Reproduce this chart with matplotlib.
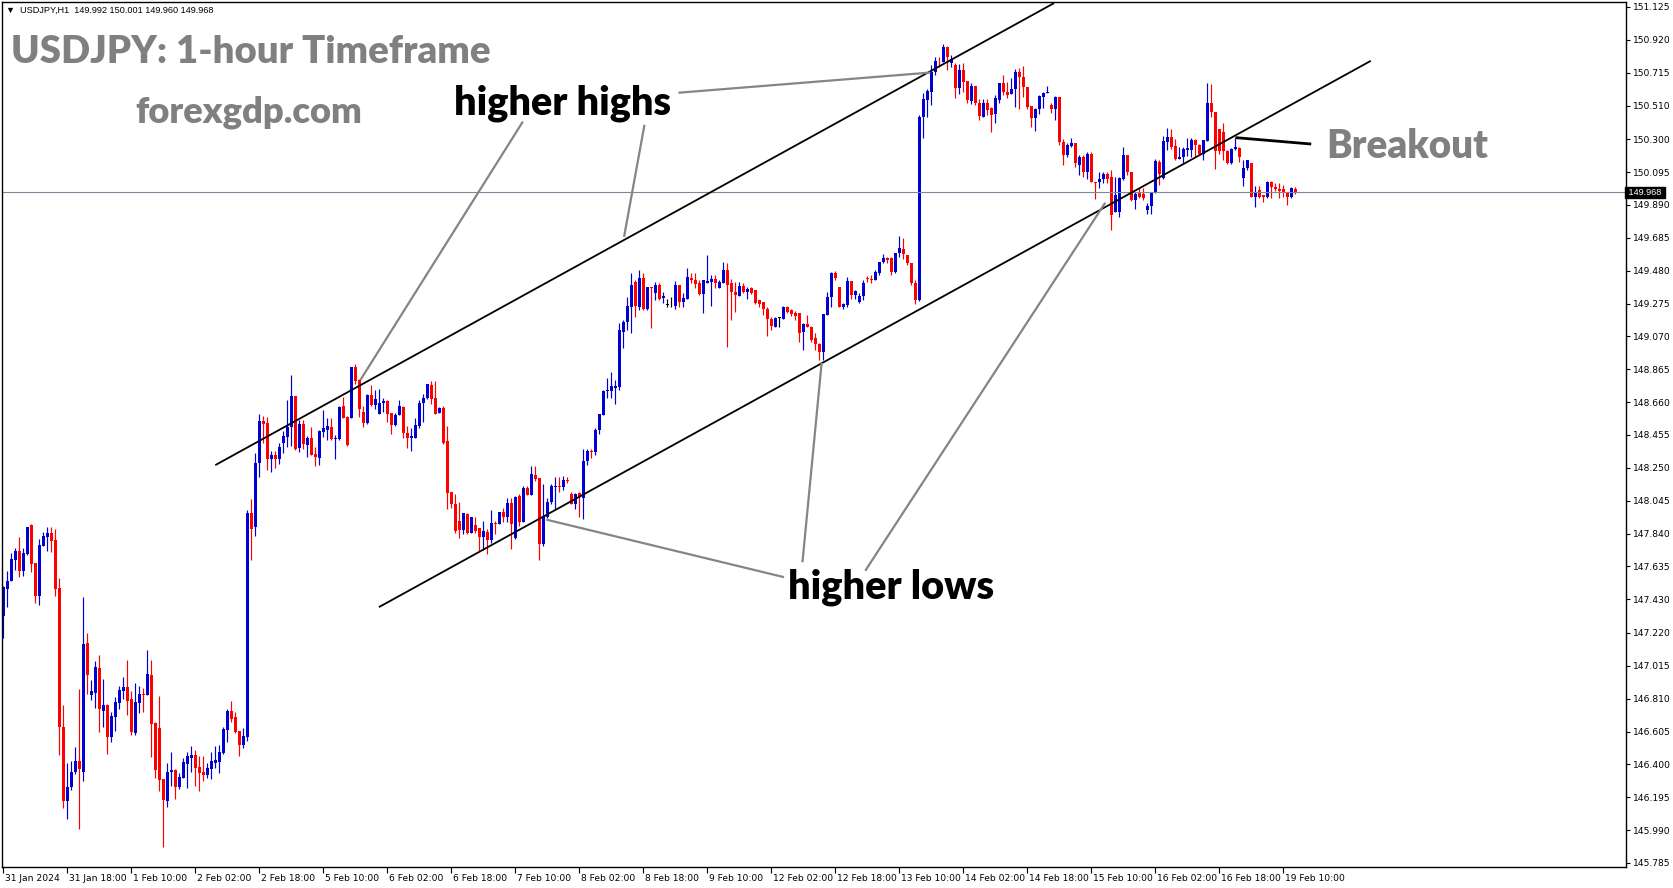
import numpy as np
import matplotlib
matplotlib.use('Agg')
from matplotlib import pyplot as plt
from matplotlib import transforms

# hourly USDJPY candles (bar 0 = 31 Jan 2024 00:00)
opens = [
147.325,147.494,147.546,147.675,147.731,147.608,147.712,147.891,147.656,147.452,
147.764,147.820,147.843,147.800,147.502,146.633,146.173,146.260,146.352,146.421,
146.354,147.157,146.834,146.847,147.001,146.735,146.770,146.572,146.697,146.785,
146.859,146.882,146.807,146.597,146.785,146.839,146.834,146.957,146.658,146.627,
146.308,146.173,146.352,146.364,146.260,146.317,146.404,146.441,146.458,146.383,
146.352,146.335,146.373,146.408,146.414,146.473,146.616,146.735,146.695,146.608,
146.522,146.572,147.968,147.883,148.280,148.542,148.530,148.305,148.330,148.305,
148.405,148.442,148.505,148.698,148.373,148.523,148.392,148.436,148.336,148.313,
148.475,148.486,148.505,148.430,148.430,148.636,148.567,148.561,148.879,148.798,
148.598,148.530,148.704,148.642,148.586,148.654,148.667,148.592,148.517,148.579,
148.629,148.467,148.436,148.436,148.511,148.654,148.685,148.767,148.685,148.592,
148.623,148.417,148.097,148.026,147.918,147.862,147.964,147.845,147.893,147.874,
147.818,147.850,147.802,147.906,147.897,147.974,147.943,148.030,147.814,148.076,
147.910,148.124,148.080,148.205,148.189,147.777,147.945,148.037,148.132,148.137,
148.132,148.174,148.089,148.022,148.095,148.060,148.293,148.357,148.351,148.486,
148.580,148.729,148.729,148.748,148.756,149.099,149.162,149.251,149.409,149.251,
149.432,149.239,149.378,149.338,149.390,149.307,149.266,149.264,149.259,149.390,
149.282,149.301,149.432,149.420,149.405,149.334,149.401,149.409,149.426,149.372,
149.405,149.484,149.405,149.347,149.322,149.384,149.347,149.370,149.361,149.295,
149.284,149.239,149.180,149.126,149.187,149.180,149.251,149.232,149.216,149.216,
149.097,149.147,149.128,149.058,149.022,148.972,149.201,149.313,149.463,149.378,
149.251,149.268,149.415,149.326,149.286,149.322,149.432,149.428,149.422,149.468,
149.536,149.557,149.557,149.474,149.593,149.613,149.578,149.526,149.400,149.300,
150.437,150.545,150.597,150.722,150.791,150.784,150.878,150.774,150.762,150.622,
150.732,150.664,150.541,150.633,150.524,150.441,150.529,150.495,150.458,150.545,
150.649,150.593,150.583,150.612,150.720,150.687,150.624,150.508,150.435,150.489,
150.566,150.587,150.514,150.489,150.566,150.285,150.202,150.260,150.275,150.140,
150.187,150.098,150.205,150.035,150.031,150.051,150.083,150.062,149.848,149.848,
150.051,150.201,150.093,149.920,149.962,149.958,149.858,149.885,149.962,150.160,
150.056,150.284,150.316,150.257,150.176,150.191,150.232,150.232,150.295,150.264,
150.205,150.291,150.528,150.472,150.361,150.347,150.228,150.149,150.237,150.243,
150.056,150.118,150.149,149.937,149.983,149.952,149.937,150.031,150.004,149.989,
149.989,149.962,149.941,149.992]

highs = [
147.513,147.608,147.721,147.750,147.820,147.750,147.881,147.902,147.656,147.806,
147.852,147.881,147.881,147.868,147.565,146.770,146.406,146.421,146.508,146.870,
147.444,147.219,146.926,147.045,147.082,146.932,146.776,146.726,146.820,146.889,
146.945,147.051,146.857,146.907,146.889,146.876,147.113,147.051,146.664,146.826,
146.308,146.408,146.477,146.371,146.346,146.439,146.477,146.514,146.489,146.452,
146.452,146.408,146.477,146.514,146.520,146.635,146.745,146.795,146.726,146.608,
146.627,147.987,148.055,148.342,148.586,148.573,148.567,148.355,148.355,148.403,
148.480,148.673,148.829,148.698,148.548,148.548,148.448,148.505,148.382,148.486,
148.611,148.561,148.561,148.455,148.636,148.692,148.573,148.879,148.898,148.804,
148.636,148.710,148.767,148.735,148.742,148.685,148.673,148.592,148.592,148.673,
148.636,148.511,148.498,148.561,148.673,148.710,148.773,148.792,148.792,148.629,
148.636,148.511,148.097,148.089,148.039,147.968,147.968,147.943,147.943,147.874,
147.918,147.868,147.985,147.918,147.974,148.001,148.060,148.060,148.076,148.089,
148.137,148.137,148.259,148.259,148.189,148.149,148.060,148.149,148.193,148.193,
148.199,148.193,148.099,148.095,148.099,148.367,148.367,148.367,148.498,148.586,
148.736,148.813,148.850,148.798,149.151,149.170,149.318,149.467,149.422,149.484,
149.463,149.378,149.378,149.411,149.401,149.349,149.301,149.313,149.415,149.390,
149.338,149.499,149.467,149.463,149.422,149.420,149.578,149.453,149.453,149.422,
149.536,149.530,149.426,149.411,149.411,149.401,149.380,149.380,149.361,149.297,
149.284,149.251,149.189,149.193,149.193,149.259,149.259,149.239,149.230,149.218,
149.151,149.203,149.135,149.089,149.031,149.209,149.349,149.474,149.480,149.378,
149.280,149.442,149.415,149.359,149.338,149.420,149.445,149.450,149.484,149.532,
149.584,149.568,149.568,149.588,149.697,149.682,149.578,149.530,149.420,150.452,
150.587,150.612,150.764,150.816,150.816,150.895,150.882,150.826,150.778,150.768,
150.778,150.664,150.653,150.633,150.549,150.549,150.549,150.504,150.576,150.653,
150.701,150.660,150.680,150.741,150.747,150.757,150.624,150.508,150.497,150.576,
150.597,150.633,150.529,150.570,150.566,150.300,150.279,150.306,150.275,150.200,
150.200,150.223,150.222,150.035,150.097,150.097,150.097,150.108,150.066,150.066,
150.249,150.201,150.093,149.972,149.993,149.993,149.900,149.972,150.174,150.170,
150.320,150.368,150.361,150.299,150.249,150.249,150.305,150.305,150.299,150.268,
150.295,150.648,150.644,150.472,150.361,150.403,150.232,150.247,150.309,150.249,
150.170,150.170,150.149,150.008,150.008,149.952,150.041,150.037,150.029,150.024,
150.014,149.972,150.004,150.001]

lows = [
147.186,147.384,147.546,147.612,147.571,147.577,147.706,147.600,147.409,147.394,
147.764,147.733,147.727,147.452,146.458,146.129,146.059,146.240,146.339,145.998,
146.298,146.841,146.801,146.751,146.604,146.635,146.464,146.541,146.610,146.747,
146.807,146.710,146.583,146.583,146.720,146.726,146.834,146.448,146.317,146.235,
145.886,146.136,146.265,146.186,146.248,146.317,146.254,146.354,146.267,146.235,
146.298,146.317,146.310,146.379,146.348,146.466,146.541,146.666,146.597,146.454,
146.504,146.547,147.677,147.826,148.195,148.407,148.236,148.226,148.247,148.274,
148.340,148.382,148.386,148.361,148.351,148.365,148.315,148.330,148.263,148.269,
148.442,148.423,148.423,148.305,148.423,148.561,148.386,148.561,148.773,148.567,
148.505,148.523,148.636,148.617,148.586,148.598,148.536,148.461,148.511,148.579,
148.436,148.373,148.355,148.436,148.498,148.536,148.679,148.648,148.586,148.592,
148.398,147.993,147.997,147.843,147.814,147.837,147.837,147.845,147.845,147.731,
147.739,147.710,147.779,147.839,147.897,147.910,147.910,147.743,147.806,147.889,
147.910,148.080,148.080,148.168,147.677,147.762,147.935,148.024,147.985,148.101,
148.112,148.155,148.026,147.995,147.943,147.929,148.268,148.311,148.330,148.461,
148.580,148.686,148.686,148.648,148.735,148.995,149.110,149.089,149.193,149.234,
149.234,149.234,149.124,149.297,149.297,149.276,149.251,149.255,149.239,149.255,
149.251,149.301,149.401,149.370,149.328,149.218,149.401,149.259,149.374,149.372,
149.401,149.006,149.172,149.224,149.322,149.338,149.301,149.334,149.272,149.251,
149.203,149.072,149.110,149.126,149.126,149.180,149.214,149.197,149.172,149.037,
148.985,149.126,149.035,148.985,148.922,148.922,149.201,149.255,149.422,149.251,
149.239,149.255,149.305,149.305,149.280,149.300,149.410,149.400,149.422,149.453,
149.526,149.526,149.453,149.464,149.568,149.551,149.516,149.390,149.270,149.290,
150.306,150.441,150.514,150.701,150.753,150.782,150.730,150.749,150.560,150.581,
150.595,150.529,150.520,150.514,150.420,150.437,150.452,150.348,150.400,150.524,
150.576,150.556,150.583,150.504,150.489,150.566,150.489,150.379,150.354,150.458,
150.493,150.587,150.462,150.420,150.264,150.140,150.192,150.254,150.125,150.077,
150.067,150.054,150.031,149.925,149.993,150.024,150.024,149.733,149.848,149.816,
150.045,150.076,149.916,149.864,149.931,149.920,149.833,149.833,149.962,150.014,
150.049,150.232,150.237,150.170,150.174,150.149,150.195,150.191,150.191,150.203,
150.170,150.289,150.440,150.112,150.207,150.170,150.145,150.145,150.232,150.160,
150.008,150.108,149.937,149.879,149.931,149.910,149.931,149.931,149.979,149.931,
149.937,149.889,149.931,149.960]

closes = [
147.508,147.544,147.681,147.731,147.608,147.719,147.881,147.652,147.452,147.768,
147.825,147.843,147.795,147.496,146.631,146.173,146.258,146.352,146.421,146.373,
147.153,146.959,146.857,147.007,146.747,146.770,146.572,146.701,146.789,146.864,
146.882,146.797,146.604,146.789,146.839,146.834,146.963,146.654,146.366,146.304,
146.179,146.352,146.364,146.260,146.321,146.414,146.452,146.458,146.379,146.346,
146.335,146.377,146.421,146.427,146.477,146.622,146.735,146.685,146.604,146.522,
146.577,147.968,147.870,148.280,148.542,148.523,148.305,148.330,148.305,148.380,
148.448,148.505,148.698,148.367,148.523,148.398,148.436,148.330,148.319,148.480,
148.498,148.511,148.430,148.436,148.629,148.561,148.392,148.879,148.792,148.617,
148.530,148.704,148.642,148.679,148.654,148.667,148.586,148.517,148.579,148.636,
148.467,148.436,148.448,148.517,148.654,148.685,148.773,148.679,148.586,148.623,
148.405,148.091,148.026,147.854,147.862,147.968,147.845,147.943,147.856,147.818,
147.856,147.802,147.906,147.897,147.974,147.943,148.030,147.897,148.068,147.914,
148.124,148.080,148.211,148.182,147.777,147.945,148.037,148.137,148.137,148.128,
148.174,148.168,148.026,148.089,148.070,148.293,148.357,148.351,148.486,148.586,
148.729,148.736,148.761,148.761,149.110,149.162,149.259,149.390,149.259,149.432,
149.239,149.378,149.370,149.390,149.301,149.322,149.266,149.264,149.390,149.282,
149.307,149.440,149.420,149.397,149.334,149.420,149.415,149.426,149.401,149.409,
149.484,149.390,149.347,149.328,149.384,149.347,149.365,149.343,149.280,149.270,
149.239,149.180,149.135,149.184,149.187,149.251,149.222,149.212,149.199,149.093,
149.147,149.130,149.047,149.022,148.972,149.209,149.313,149.467,149.432,149.255,
149.272,149.415,149.326,149.353,149.322,149.400,149.428,149.422,149.474,149.532,
149.559,149.547,149.474,149.588,149.620,149.582,149.526,149.400,149.300,150.437,
150.551,150.603,150.722,150.789,150.787,150.878,150.811,150.799,150.622,150.732,
150.660,150.545,150.633,150.524,150.445,150.529,150.483,150.452,150.556,150.653,
150.593,150.576,150.614,150.720,150.687,150.624,150.504,150.435,150.491,150.570,
150.591,150.595,150.489,150.566,150.285,150.202,150.264,150.275,150.150,150.192,
150.098,150.208,150.031,150.029,150.051,150.083,150.051,149.827,149.952,150.056,
150.201,150.093,149.920,149.958,149.937,149.935,149.885,149.968,150.166,150.083,
150.291,150.316,150.249,150.176,150.191,150.239,150.247,150.295,150.262,150.205,
150.295,150.528,150.472,150.228,150.228,150.228,150.149,150.237,150.253,150.191,
150.122,150.170,149.937,149.972,149.941,149.937,150.031,150.004,149.987,149.979,
149.962,149.941,149.997,149.968]

last_price = 149.968
header = '\u25BC  USDJPY,H1  149.992 150.001 149.960 149.968'

price_ticks = [151.125,150.920,150.715,150.510,150.300,150.095,149.890,149.685,149.480,
               149.275,149.070,148.865,148.660,148.455,148.250,148.045,147.840,147.635,
               147.430,147.220,147.015,146.810,146.605,146.400,146.195,145.990,145.785]
time_labels = ['31 Jan 2024','31 Jan 18:00','1 Feb 10:00','2 Feb 02:00','2 Feb 18:00',
               '5 Feb 10:00','6 Feb 02:00','6 Feb 18:00','7 Feb 10:00','8 Feb 02:00',
               '8 Feb 18:00','9 Feb 10:00','12 Feb 02:00','12 Feb 18:00','13 Feb 10:00',
               '14 Feb 02:00','14 Feb 18:00','15 Feb 10:00','16 Feb 02:00','16 Feb 18:00',
               '19 Feb 10:00']

# channel lines and pointer lines as (bar, price) pairs
upper_channel = [(53.0, 148.267), (262.7, 151.149)]
lower_channel = [(93.9, 147.381), (341.9, 150.789)]
hh_pointers = [[(129.9, 150.410), (89.3, 148.799)],
               [(160.3, 150.390), (155.2, 149.691)],
               [(168.8, 150.590), (231.8, 150.716)]]
hl_pointers = [[(195.2, 147.568), (135.75, 147.927)],
               [(199.8, 147.661), (204.6, 148.905)],
               [(215.5, 147.608), (275.5, 149.904)]]
breakout_line = [(308.05, 150.310), (327.0, 150.270)]

W, H = 1673, 888
fig = plt.figure(figsize=[W/100, H/100], dpi=100)
ax = fig.add_axes([2.3/W, (H-867)/H, (1626-2.3)/W, 865/H])
plt.rcParams['font.family'] = ['Liberation Sans', 'DejaVu Sans']

o = np.array(opens); h = np.array(highs); l = np.array(lows); c = np.array(closes)
x = np.arange(len(c))
cols = np.where(c > o, '#0000d0', np.where(c < o, '#ff0000', '#000000'))
ax.vlines(x, l, h, colors=cols, lw=0.85)
ax.bar(x, np.maximum(np.abs(c-o), 0.004), bottom=np.minimum(o, c), width=0.78,
       color=cols, linewidth=0)

ax.axhline(last_price, color='#7a8a9a', lw=0.8)

def seg(p, **kw):
    ax.plot([p[0][0], p[1][0]], [p[0][1], p[1][1]], solid_capstyle='butt', **kw)

seg(upper_channel, color='k', lw=1.3)
seg(lower_channel, color='k', lw=1.3)
for p in hh_pointers + hl_pointers:
    seg(p, color='#858585', lw=1.6)
seg(breakout_line, color='k', lw=2.0)

ax.set_xlim(-0.25, 405.7)
ax.set_ylim(145.760, 151.156)

ax.yaxis.tick_right()
ax.set_yticks(price_ticks)
ax.set_yticklabels(['%.3f' % v for v in price_ticks], fontsize=6.6)
ax.tick_params(axis='y', direction='out', length=3, width=0.8, pad=2)
ax.set_xticks(np.arange(0, 321, 16))
ax.set_xticklabels(time_labels, fontsize=6.6, ha='left')
ax.tick_params(axis='x', direction='out', length=4, width=0.8, pad=1)
off = transforms.ScaledTranslation(1.5/100, 0, fig.dpi_scale_trans)
for t in ax.get_xticklabels():
    t.set_transform(t.get_transform() + off)
for s in ax.spines.values():
    s.set_linewidth(1.0)
    s.set_color('k')

ax.text(1.0, last_price, ' %.3f ' % last_price, transform=ax.get_yaxis_transform(),
        ha='left', va='center', fontsize=6.6, color='white',
        bbox=dict(boxstyle='square,pad=0.1', fc='black', ec='black'))

fig.text(6/W, 1-10/H, header, fontsize=6.6, va='center', ha='left',
         family=['Liberation Sans', 'DejaVu Sans'])

r = fig.canvas.get_renderer()
def fit(t, width):
    bb = t.get_window_extent(r)
    t.set_fontsize(t.get_fontsize()*width/bb.width)

t1 = fig.text(10.7/W, 1-52/H, 'USDJPY: 1-hour Timeframe', color='#808080',
              fontsize=28, fontweight='heavy', family='Lato', va='center')
fit(t1, 478)
t2 = fig.text(135.5/W, 1-112/H, 'forexgdp.com', color='#808080',
              fontsize=24, fontweight='heavy', family='Lato', va='center')
fit(t2, 228)
t3 = ax.text(139.9, 150.522, 'higher highs', color='k', fontsize=24,
             fontweight='heavy', family='Lato', ha='center', va='center')
fit(t3, 217)
t4 = ax.text(222.0, 147.508, 'higher lows', color='k', fontsize=24,
             fontweight='heavy', family='Lato', ha='center', va='center')
fit(t4, 206)
t5 = ax.text(330.7, 150.253, 'Breakout', color='#808080', fontsize=24,
             fontweight='heavy', family='Lato', ha='left', va='center')
fit(t5, 162)

fig.savefig('out.png', dpi=100)
